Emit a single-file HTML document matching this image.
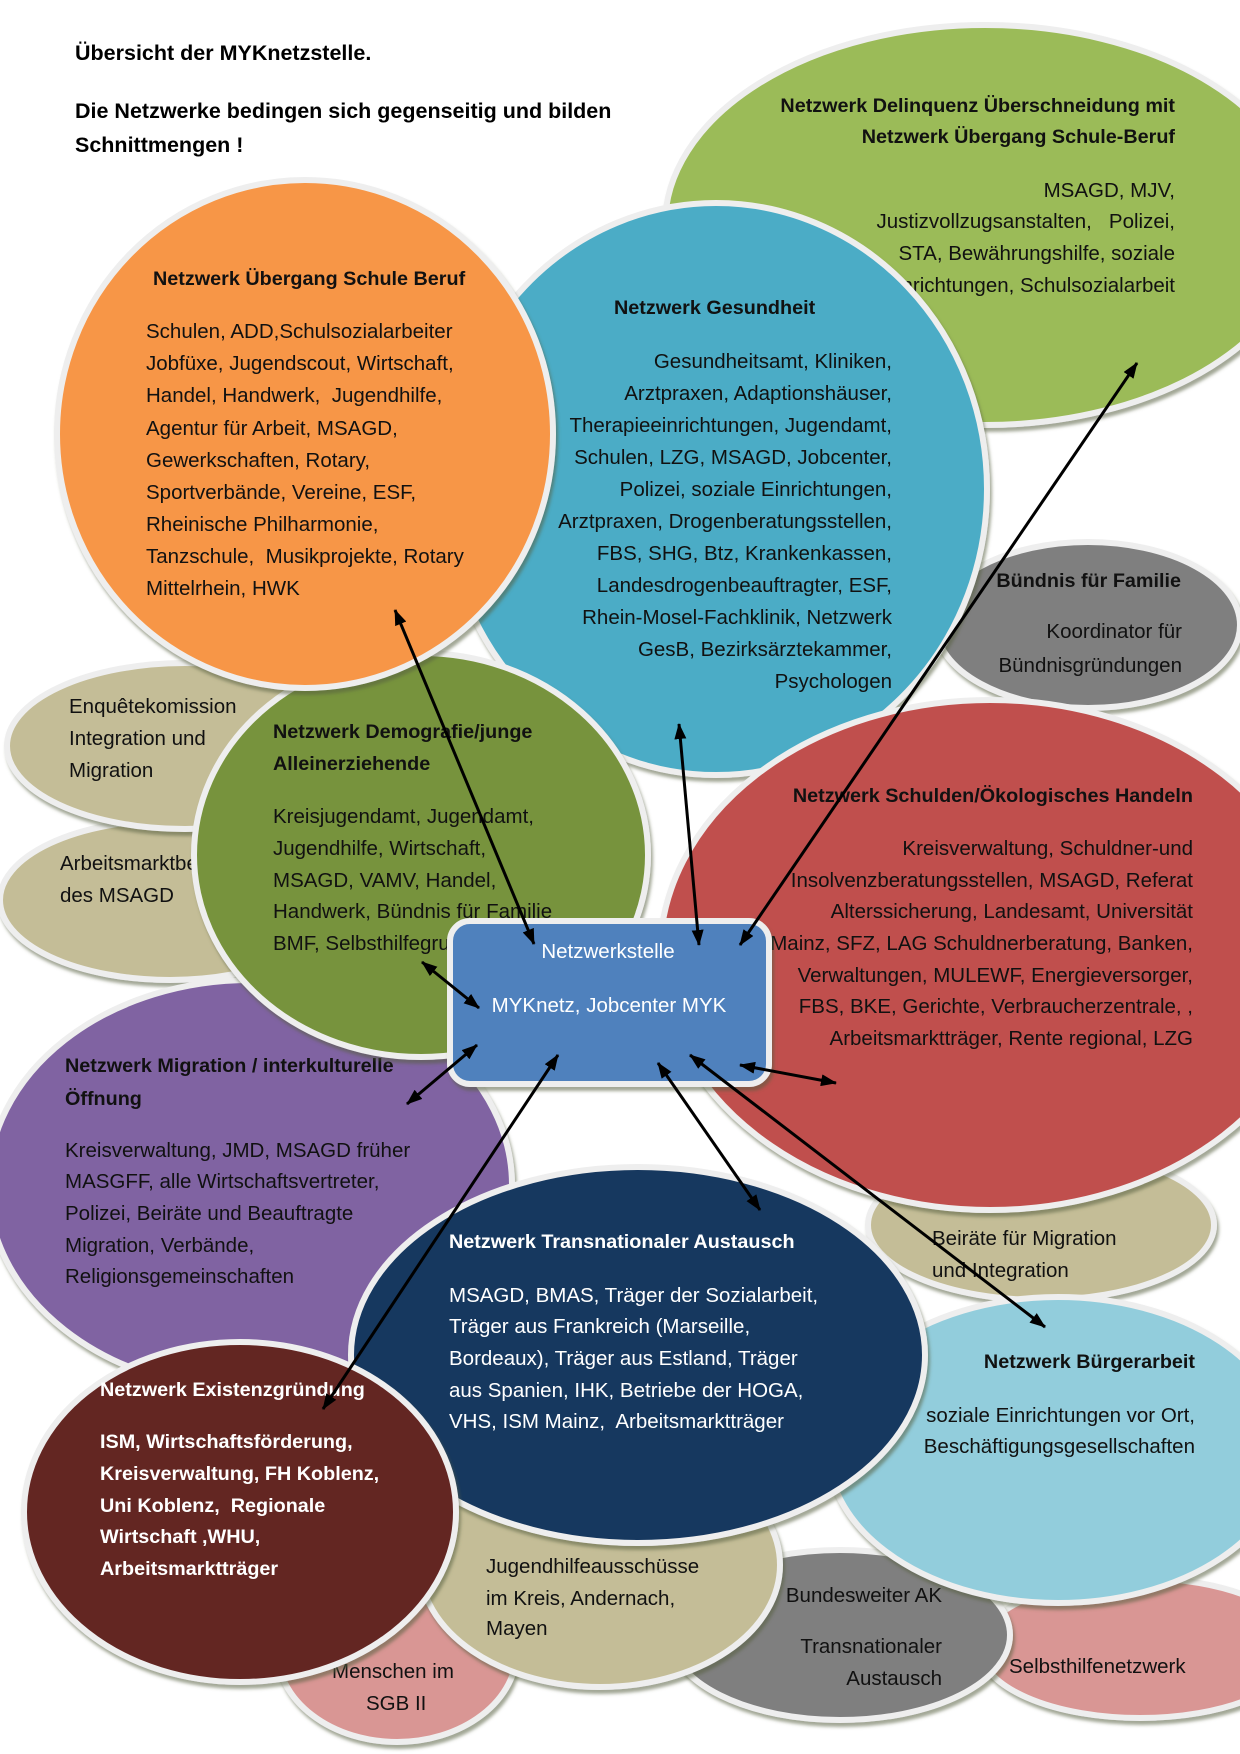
<!DOCTYPE html>
<html>
<head>
<meta charset="utf-8">
<style>
  html,body{margin:0;padding:0;background:#fff;}
  svg{display:block;}
  .e{stroke:#eeeeee;stroke-width:6;filter:url(#sh);}
  text{font-family:"Liberation Sans",sans-serif;font-size:20.5px;fill:#111;white-space:pre;}
  .b{font-weight:bold;font-size:19.8px;}
  .w{fill:#ffffff;}
  .h{font-weight:bold;font-size:21.5px;fill:#000;}
  .ar{stroke:#000;stroke-width:3;fill:none;marker-start:url(#ah);marker-end:url(#ah);}
</style>
</head>
<body>
<svg width="1240" height="1754" viewBox="0 0 1240 1754" xmlns="http://www.w3.org/2000/svg">
<defs>
  <filter id="sh" x="-10%" y="-10%" width="125%" height="130%">
    <feDropShadow dx="2" dy="4" stdDeviation="1.5" flood-color="#55603f" flood-opacity="0.55"/>
  </filter>
  <marker id="ah" viewBox="0 0 16 12" refX="15" refY="6" markerWidth="16" markerHeight="12" markerUnits="userSpaceOnUse" orient="auto-start-reverse">
    <path d="M0,0 L16,6 L0,12 z" fill="#000"/>
  </marker>
</defs>

<rect x="0" y="0" width="1240" height="1754" fill="#fff"/>

<!-- Title -->
<text class="h" x="75" y="60">Übersicht der MYKnetzstelle.</text>
<text class="h" x="75" y="118">Die Netzwerke bedingen sich gegenseitig und bilden</text>
<text class="h" x="75" y="152">Schnittmengen !</text>

<!-- 1 Delinquenz -->
<ellipse class="e" cx="985" cy="225" rx="320" ry="200" fill="#9bbb59"/>
<text class="b" x="1175" y="112" text-anchor="end">Netzwerk Delinquenz Überschneidung mit</text>
<text class="b" x="1175" y="143" text-anchor="end">Netzwerk Übergang Schule-Beruf</text>
<text x="1175" y="197" text-anchor="end">MSAGD, MJV,</text>
<text x="1175" y="228" text-anchor="end">Justizvollzugsanstalten,   Polizei,</text>
<text x="1175" y="260" text-anchor="end">STA, Bewährungshilfe, soziale</text>
<text x="1175" y="292" text-anchor="end">Einrichtungen, Schulsozialarbeit</text>

<!-- 2 Bündnis -->
<ellipse class="e" cx="1088" cy="625" rx="152" ry="83" fill="#7f7f7f"/>
<text class="b" x="1181" y="587" text-anchor="end">Bündnis für Familie</text>
<text x="1182" y="638" text-anchor="end">Koordinator für</text>
<text x="1182" y="672" text-anchor="end">Bündnisgründungen</text>

<!-- 3 Gesundheit -->
<ellipse class="e" cx="716" cy="489" rx="271" ry="286" fill="#4bacc6"/>
<text class="b" x="614" y="314">Netzwerk Gesundheit</text>
<text x="892" y="368" text-anchor="end">Gesundheitsamt, Kliniken,</text>
<text x="892" y="400" text-anchor="end">Arztpraxen, Adaptionshäuser,</text>
<text x="892" y="432" text-anchor="end">Therapieeinrichtungen, Jugendamt,</text>
<text x="892" y="464" text-anchor="end">Schulen, LZG, MSAGD, Jobcenter,</text>
<text x="892" y="496" text-anchor="end">Polizei, soziale Einrichtungen,</text>
<text x="892" y="528" text-anchor="end">Arztpraxen, Drogenberatungsstellen,</text>
<text x="892" y="560" text-anchor="end">FBS, SHG, Btz, Krankenkassen,</text>
<text x="892" y="592" text-anchor="end">Landesdrogenbeauftragter, ESF,</text>
<text x="892" y="624" text-anchor="end">Rhein-Mosel-Fachklinik, Netzwerk</text>
<text x="892" y="656" text-anchor="end">GesB, Bezirksärztekammer,</text>
<text x="892" y="688" text-anchor="end">Psychologen</text>

<!-- 4 Beiräte -->
<ellipse class="e" cx="1041" cy="1225" rx="173" ry="75" fill="#c4bd97"/>
<text x="932" y="1245">Beiräte für Migration</text>
<text x="932" y="1277">und Integration</text>

<!-- 5 Schulden -->
<ellipse class="e" cx="990" cy="955" rx="330" ry="255" fill="#c0504d"/>
<text class="b" x="1193" y="802" text-anchor="end">Netzwerk Schulden/Ökologisches Handeln</text>
<text x="1193" y="855" text-anchor="end">Kreisverwaltung, Schuldner-und</text>
<text x="1193" y="887" text-anchor="end">Insolvenzberatungsstellen, MSAGD, Referat</text>
<text x="1193" y="918" text-anchor="end">Alterssicherung, Landesamt, Universität</text>
<text x="1193" y="950" text-anchor="end">Mainz, SFZ, LAG Schuldnerberatung, Banken,</text>
<text x="1193" y="982" text-anchor="end">Verwaltungen, MULEWF, Energieversorger,</text>
<text x="1193" y="1013" text-anchor="end">FBS, BKE, Gerichte, Verbraucherzentrale, ,</text>
<text x="1193" y="1045" text-anchor="end">Arbeitsmarktträger, Rente regional, LZG</text>

<!-- 6 Arbeitsmarkt beige -->
<ellipse class="e" cx="170" cy="900" rx="170" ry="80" fill="#c4bd97"/>
<text x="60" y="870">Arbeitsmarktbeirat</text>
<text x="60" y="902">des MSAGD</text>

<!-- 7 Enquête beige -->
<ellipse class="e" cx="185" cy="746" rx="178" ry="83" fill="#c4bd97"/>
<text x="69" y="713">Enquêtekomission</text>
<text x="69" y="745">Integration und</text>
<text x="69" y="777">Migration</text>

<!-- 8 Migration purple -->
<ellipse class="e" cx="250" cy="1185" rx="262" ry="205" fill="#8064a2"/>
<text class="b" x="65" y="1072">Netzwerk Migration / interkulturelle</text>
<text class="b" x="65" y="1105">Öffnung</text>
<text x="65" y="1157">Kreisverwaltung, JMD, MSAGD früher</text>
<text x="65" y="1188">MASGFF, alle Wirtschaftsvertreter,</text>
<text x="65" y="1220">Polizei, Beiräte und Beauftragte</text>
<text x="65" y="1252">Migration, Verbände,</text>
<text x="65" y="1283">Religionsgemeinschaften</text>

<!-- 9 Demografie green -->
<ellipse class="e" cx="421" cy="855" rx="227" ry="202" fill="#77933c"/>
<text class="b" x="273" y="738">Netzwerk Demografie/junge</text>
<text class="b" x="273" y="770">Alleinerziehende</text>
<text x="273" y="823">Kreisjugendamt, Jugendamt,</text>
<text x="273" y="855">Jugendhilfe, Wirtschaft,</text>
<text x="273" y="887">MSAGD, VAMV, Handel,</text>
<text x="273" y="918">Handwerk, Bündnis für Familie</text>
<text x="273" y="950">BMF, Selbsthilfegruppen</text>

<!-- 10 Orange -->
<ellipse class="e" cx="305" cy="434" rx="248" ry="254" fill="#f79646"/>
<text class="b" x="153" y="285">Netzwerk Übergang Schule Beruf</text>
<text x="146" y="338">Schulen, ADD,Schulsozialarbeiter</text>
<text x="146" y="370">Jobfüxe, Jugendscout, Wirtschaft,</text>
<text x="146" y="402">Handel, Handwerk,  Jugendhilfe,</text>
<text x="146" y="435">Agentur für Arbeit, MSAGD,</text>
<text x="146" y="467">Gewerkschaften, Rotary,</text>
<text x="146" y="499">Sportverbände, Vereine, ESF,</text>
<text x="146" y="531">Rheinische Philharmonie,</text>
<text x="146" y="563">Tanzschule,  Musikprojekte, Rotary</text>
<text x="146" y="595">Mittelrhein, HWK</text>

<!-- 11 Selbsthilfe pink -->
<ellipse class="e" cx="1140" cy="1648" rx="160" ry="70" fill="#d99694"/>
<text x="1009" y="1673">Selbsthilfenetzwerk</text>

<!-- 12 Bundesweiter grey -->
<ellipse class="e" cx="840" cy="1635" rx="170" ry="85" fill="#7f7f7f"/>
<text x="942" y="1602" text-anchor="end">Bundesweiter AK</text>
<text x="942" y="1653" text-anchor="end">Transnationaler</text>
<text x="942" y="1685" text-anchor="end">Austausch</text>

<!-- 13 Bürgerarbeit light blue -->
<ellipse class="e" cx="1058" cy="1450" rx="230" ry="153" fill="#92cddc"/>
<text class="b" x="1195" y="1368" text-anchor="end">Netzwerk Bürgerarbeit</text>
<text x="1195" y="1422" text-anchor="end">soziale Einrichtungen vor Ort,</text>
<text x="1195" y="1453" text-anchor="end">Beschäftigungsgesellschaften</text>

<!-- 14 SGB pink -->
<ellipse class="e" cx="397" cy="1650" rx="120" ry="92" fill="#d99694"/>
<text x="332" y="1678">Menschen im</text>
<text x="366" y="1710">SGB II</text>

<!-- 15 Jugendhilfe beige -->
<ellipse class="e" cx="600" cy="1565" rx="180" ry="122" fill="#c4bd97"/>
<text x="486" y="1573">Jugendhilfeausschüsse</text>
<text x="486" y="1605">im Kreis, Andernach,</text>
<text x="486" y="1635">Mayen</text>

<!-- 16 Navy -->
<ellipse class="e" cx="638" cy="1355" rx="287" ry="188" fill="#17375e"/>
<text class="b w" x="449" y="1248">Netzwerk Transnationaler Austausch</text>
<text class="w" x="449" y="1302">MSAGD, BMAS, Träger der Sozialarbeit,</text>
<text class="w" x="449" y="1333">Träger aus Frankreich (Marseille,</text>
<text class="w" x="449" y="1365">Bordeaux), Träger aus Estland, Träger</text>
<text class="w" x="449" y="1397">aus Spanien, IHK, Betriebe der HOGA,</text>
<text class="w" x="449" y="1428">VHS, ISM Mainz,  Arbeitsmarktträger</text>

<!-- 17 Maroon -->
<ellipse class="e" cx="240" cy="1512" rx="216" ry="170" fill="#632523"/>
<text class="b w" x="100" y="1396">Netzwerk Existenzgründung</text>
<text class="b w" x="100" y="1448">ISM, Wirtschaftsförderung,</text>
<text class="b w" x="100" y="1480">Kreisverwaltung, FH Koblenz,</text>
<text class="b w" x="100" y="1512">Uni Koblenz,  Regionale</text>
<text class="b w" x="100" y="1543">Wirtschaft ,WHU,</text>
<text class="b w" x="100" y="1575">Arbeitsmarktträger</text>

<!-- 18 Central box -->
<rect class="e" x="450" y="921" width="319" height="163" rx="20" ry="20" fill="#4f81bd"/>
<text class="w" x="608" y="958" text-anchor="middle">Netzwerkstelle</text>
<text class="w" x="609" y="1012" text-anchor="middle">MYKnetz, Jobcenter MYK</text>

<!-- Arrows -->
<line class="ar" x1="395" y1="610" x2="534" y2="944"/>
<line class="ar" x1="679" y1="724" x2="699" y2="945"/>
<line class="ar" x1="1137" y1="363" x2="740" y2="945"/>
<line class="ar" x1="422" y1="962" x2="479" y2="1008"/>
<line class="ar" x1="477" y1="1045" x2="407" y2="1104"/>
<line class="ar" x1="558" y1="1055" x2="323" y2="1409"/>
<line class="ar" x1="658" y1="1063" x2="760" y2="1210"/>
<line class="ar" x1="690" y1="1055" x2="1045" y2="1327"/>
<line class="ar" x1="740" y1="1065" x2="836" y2="1083"/>
</svg>
</body>
</html>
